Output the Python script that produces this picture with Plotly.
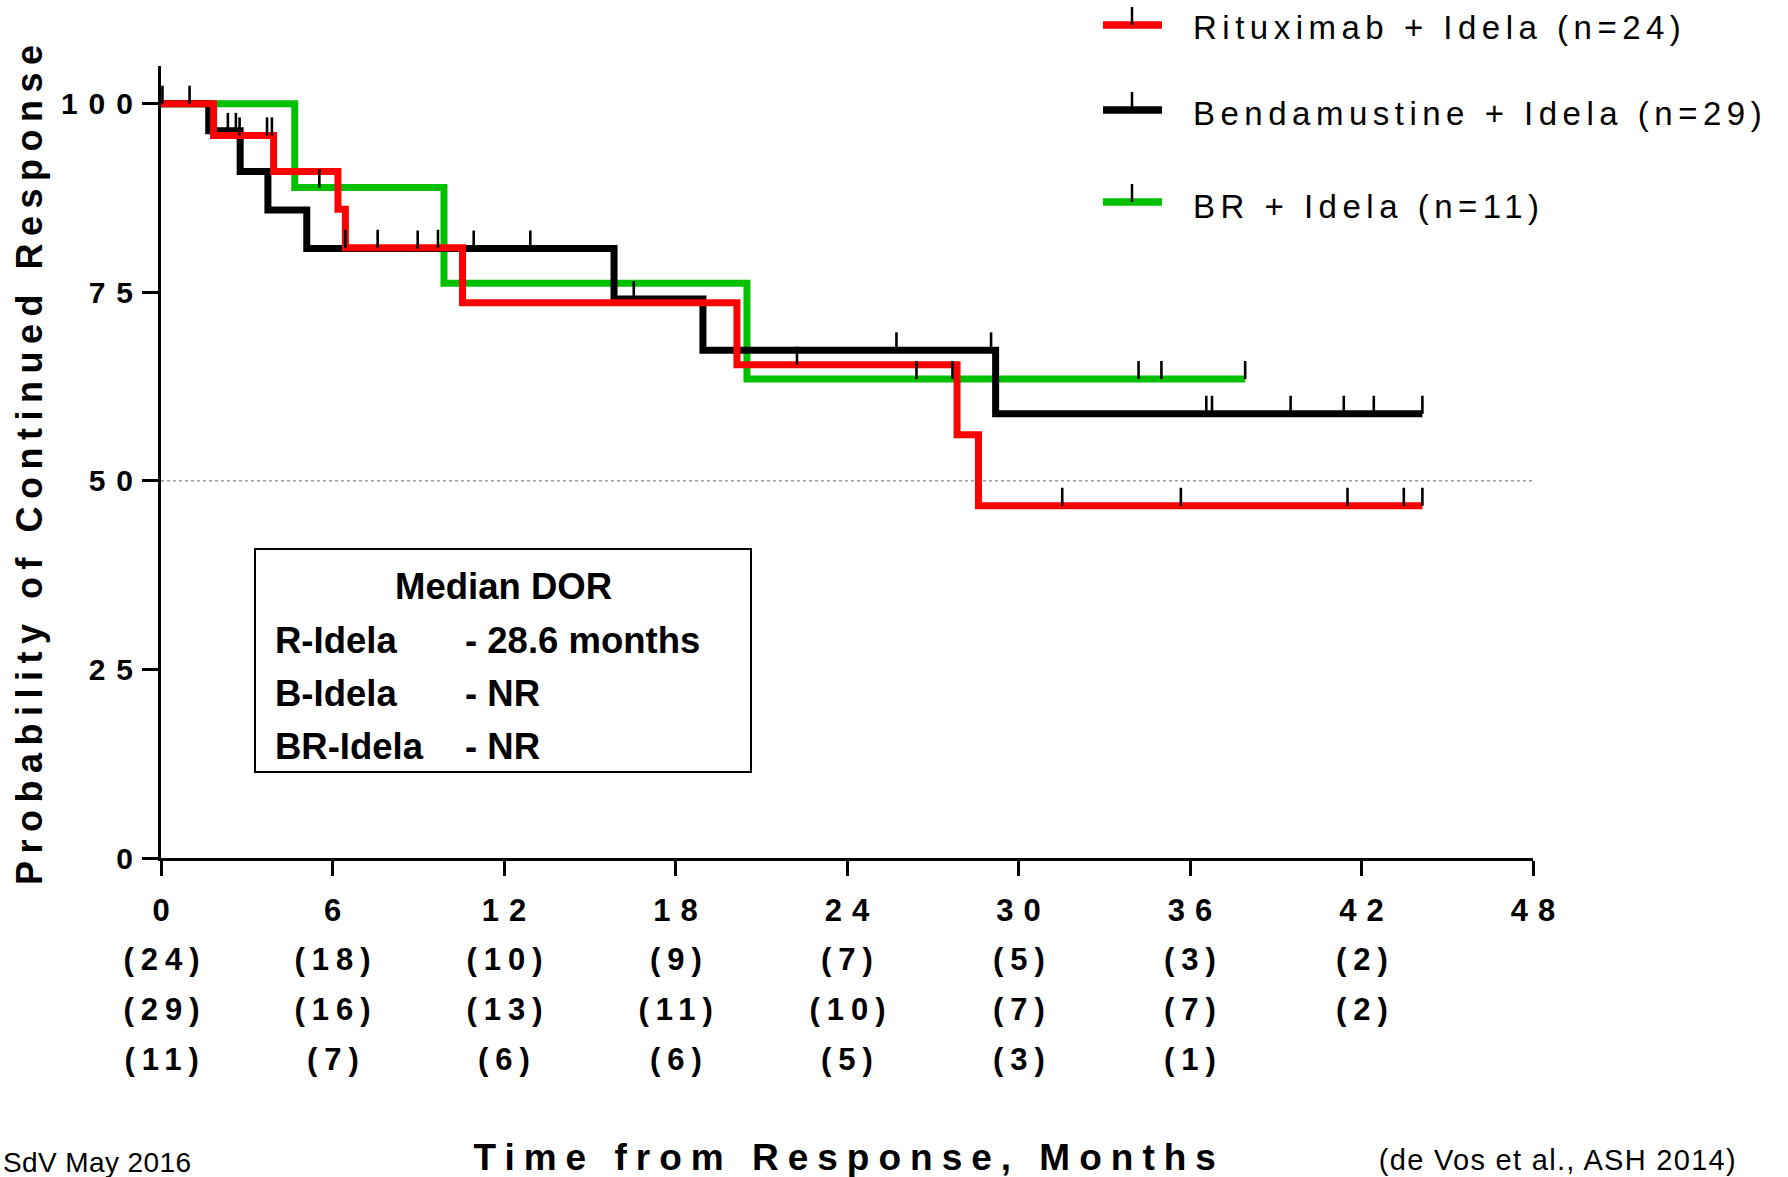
import json
import plotly.graph_objects as go

# ---------------- data ----------------
x_ticks = [0, 6, 12, 18, 24, 30, 36, 42, 48]
x_tick_text = ["0", "6", "12", "18", "24", "30", "36", "42", "48"]
y_ticks = [0, 25, 50, 75, 100]
y_tick_text = ["0", "25", "50", "75", "100"]

# Rituximab + Idela
r_times = [0, 1.84, 3.94, 6.19, 6.45, 10.55, 20.15, 27.85, 28.6, 44.13]
r_surv = [100, 95.8, 91.0, 86.0, 80.9, 73.6, 65.4, 56.1, 46.7, 46.7]
r_cens = [2.75, 3.71, 3.88, 6.45, 7.58, 9.69, 22.25, 31.53, 35.68, 41.51, 43.48, 44.13]

# Bendamustine + Idela
b_times = [0, 1.67, 2.77, 3.74, 5.1, 15.85, 18.96, 29.2, 44.13]
b_surv = [100, 96.4, 91.0, 85.9, 80.8, 74.1, 67.3, 58.9, 58.9]
b_cens = [2.34, 2.62, 8.98, 10.94, 12.92, 16.54, 25.73, 29.04, 36.57, 36.77,
          39.52, 41.38, 42.43, 44.13]

# BR + Idela
g_times = [0, 4.68, 9.9, 20.5, 37.93]
g_surv = [100, 88.9, 76.2, 63.5, 63.5]
g_cens = [0.05, 1.0, 5.54, 26.43, 27.69, 34.2, 35.0, 37.93]

series_names = ["Rituximab + Idela (n=24)", "Bendamustine + Idela (n=29)", "BR + Idela (n=11)"]
series_colors = ["#ff0000", "#000000", "#00c000"]

# numbers at risk (rows: R, B, BR) at x_ticks
risk_r = ["(24)", "(18)", "(10)", "(9)", "(7)", "(5)", "(3)", "(2)"]
risk_b = ["(29)", "(16)", "(13)", "(11)", "(10)", "(7)", "(7)", "(2)"]
risk_g = ["(11)", "(7)", "(6)", "(6)", "(5)", "(3)", "(1)"]

median_title = "Median DOR"
median_rows = [("R-Idela", "- 28.6 months"), ("B-Idela", "- NR"), ("BR-Idela", "- NR")]

x_title = "Time from Response, Months"
y_title = "Probability of Continued Response"
note_left = "SdV May 2016"
note_right = "(de Vos et al., ASH 2014)"

# ---------------- layout geometry ----------------
W, H = 1788, 1177
L, R, T, B = 161, 255, 66, 319
PW, PH = W - L - R, H - T - B
Y_MAX = 105
FONT = "Liberation Sans, Arial, Helvetica, sans-serif"


def px2x(px):
    return (px - L) / PW


def py2y(py):
    return (H - B - py) / PH


def surv_at(times, surv, t):
    v = surv[0]
    for ti, si in zip(times, surv):
        if ti <= t:
            v = si
    return v


TICK_PX = 18
tick_units = TICK_PX * Y_MAX / PH

fig = go.Figure()

# 50% reference line
fig.add_shape(type="line", x0=0, x1=48, y0=50, y1=50, xref="x", yref="y",
              line=dict(color="#9a9a9a", width=1.5, dash="dot"), layer="below")

curves = [(g_times, g_surv, g_cens, series_colors[2]),
          (b_times, b_surv, b_cens, series_colors[1]),
          (r_times, r_surv, r_cens, series_colors[0])]
for t, s, c, col in curves:
    fig.add_trace(go.Scatter(x=t, y=s, mode="lines", line=dict(color=col, width=7, shape="hv"),
                             hoverinfo="skip", showlegend=False))
for t, s, c, col in curves:
    ys = [surv_at(t, s, ci) for ci in c]
    fig.add_trace(go.Scatter(
        x=c, y=ys, mode="markers", marker=dict(size=1, color="rgba(0,0,0,0)"),
        error_y=dict(type="data", symmetric=False, array=[tick_units] * len(c),
                     arrayminus=[0] * len(c), width=0, thickness=2.6, color="#000000"),
        hoverinfo="skip", showlegend=False))

annotations = []
spacing = []  # per annotation: [letter-spacing px, anchor mode]


def add_ann(sp, **kw):
    annotations.append(kw)
    spacing.append(sp)


# numbers at risk
row_py = [959, 1009, 1059]
for row, py in zip([risk_r, risk_b, risk_g], row_py):
    for xv, txt in zip(x_ticks, row):
        add_ann([7, "mid"], x=xv, xref="x", y=py2y(py), yref="paper", text=txt,
                showarrow=False, xanchor="center", yanchor="middle",
                font=dict(family=FONT, size=31, color="black", weight="bold"))

# axis titles
add_ann([9, "mid"], x=px2x(844), xref="paper", y=py2y(1157), yref="paper", text=x_title,
        showarrow=False, xanchor="center", yanchor="middle",
        font=dict(family=FONT, size=37, color="black", weight="bold"))
add_ann([7.5, "mid"], x=px2x(29), xref="paper", y=py2y(465), yref="paper", text=y_title,
        showarrow=False, xanchor="center", yanchor="middle", textangle=-90,
        font=dict(family=FONT, size=36, color="black", weight="bold"))

# footnotes
add_ann([0.4, "left"], x=px2x(2), xref="paper", y=py2y(1162), yref="paper", text=note_left,
        showarrow=False, xanchor="left", yanchor="middle", align="left", borderpad=0,
        font=dict(family=FONT, size=28, color="black"))
add_ann([1.3, "end"], x=px2x(1737), xref="paper", y=py2y(1160), yref="paper", text=note_right,
        showarrow=False, xanchor="right", yanchor="middle", align="right", borderpad=0,
        font=dict(family=FONT, size=29, color="black"))

# legend (custom)
leg_line_py = [25, 110, 202]
leg_text_py = [28, 113, 206]
for name, col, lpy, tpy in zip(series_names, series_colors, leg_line_py, leg_text_py):
    fig.add_shape(type="line", xref="paper", yref="paper", x0=px2x(1103), x1=px2x(1162),
                  y0=py2y(lpy), y1=py2y(lpy), line=dict(color=col, width=7.5))
    fig.add_shape(type="line", xref="paper", yref="paper", x0=px2x(1132), x1=px2x(1132),
                  y0=py2y(lpy), y1=py2y(lpy - 18), line=dict(color="black", width=2.5))
    add_ann([5.5, "left"], x=px2x(1192), xref="paper", y=py2y(tpy), yref="paper", text=name,
            showarrow=False, xanchor="left", yanchor="middle", align="left", borderpad=0,
            font=dict(family=FONT, size=33, color="black"))

# median DOR box
fig.add_shape(type="rect", xref="paper", yref="paper", x0=px2x(255), x1=px2x(751),
              y0=py2y(549), y1=py2y(772), line=dict(color="black", width=2), fillcolor="white")
add_ann(None, x=px2x(503), xref="paper", y=py2y(586), yref="paper", text=median_title,
        showarrow=False, xanchor="center", yanchor="middle", borderpad=0,
        font=dict(family=FONT, size=36.5, color="black", weight="bold"))
for (lab, val), py in zip(median_rows, [640, 693, 746]):
    add_ann(None, x=px2x(274), xref="paper", y=py2y(py), yref="paper", text=lab,
            showarrow=False, xanchor="left", yanchor="middle", align="left", borderpad=0,
            font=dict(family=FONT, size=36.5, color="black", weight="bold"))
    add_ann(None, x=px2x(464), xref="paper", y=py2y(py), yref="paper", text=val,
            showarrow=False, xanchor="left", yanchor="middle", align="left", borderpad=0,
            font=dict(family=FONT, size=36.5, color="black", weight="bold"))

fig.update_layout(
    width=W, height=H,
    margin=dict(l=L, r=R, t=T, b=B, autoexpand=False),
    paper_bgcolor="white", plot_bgcolor="white",
    showlegend=False,
    annotations=annotations,
    xaxis=dict(range=[0, 48], tickmode="array", tickvals=x_ticks, ticktext=x_tick_text,
               showgrid=False, zeroline=False, showline=True, linecolor="black", linewidth=3,
               ticks="outside", ticklen=15, tickwidth=3, tickcolor="black",
               ticklabelstandoff=8,
               tickfont=dict(family=FONT, size=31, color="black", weight="bold")),
    yaxis=dict(range=[0, Y_MAX], tickmode="array", tickvals=y_ticks, ticktext=y_tick_text,
               showgrid=False, zeroline=False, showline=True, linecolor="black", linewidth=3,
               ticks="outside", ticklen=16, tickwidth=3, tickcolor="black",
               ticklabelstandoff=3,
               tickfont=dict(family=FONT, size=30, color="black", weight="bold")),
)

post_js = """
(function(){
document.documentElement.style.margin = '0';
document.body.style.margin = '0';
document.body.style.padding = '0';
var gd = document.getElementById('{plot_id}');
var ANN = __ANN__;
var XT = [10, 'mid'], YT = [11, 'end'];
function setSp(t, s){
  t.style.letterSpacing = s[0] + 'px';
  var dx = s[1] === 'mid' ? s[0] / 2 : (s[1] === 'end' ? s[0] : 0);
  if (dx) { t.setAttribute('dx', dx); }
}
function applySp(){
  gd.querySelectorAll('g.annotation').forEach(function(g){
    var i = parseInt(g.getAttribute('data-index'));
    var s = ANN[i];
    if (!s) return;
    g.querySelectorAll('text').forEach(function(t){ setSp(t, s); });
  });
  gd.querySelectorAll('g.xtick text').forEach(function(t){ setSp(t, XT); });
  gd.querySelectorAll('g.ytick text').forEach(function(t){ setSp(t, YT); });
}
applySp();
if (gd.on) { gd.on('plotly_afterplot', applySp); }
})();
""".replace("__ANN__", json.dumps(spacing))

fig.write_html("out.html", post_script=post_js, config={"displayModeBar": False})
